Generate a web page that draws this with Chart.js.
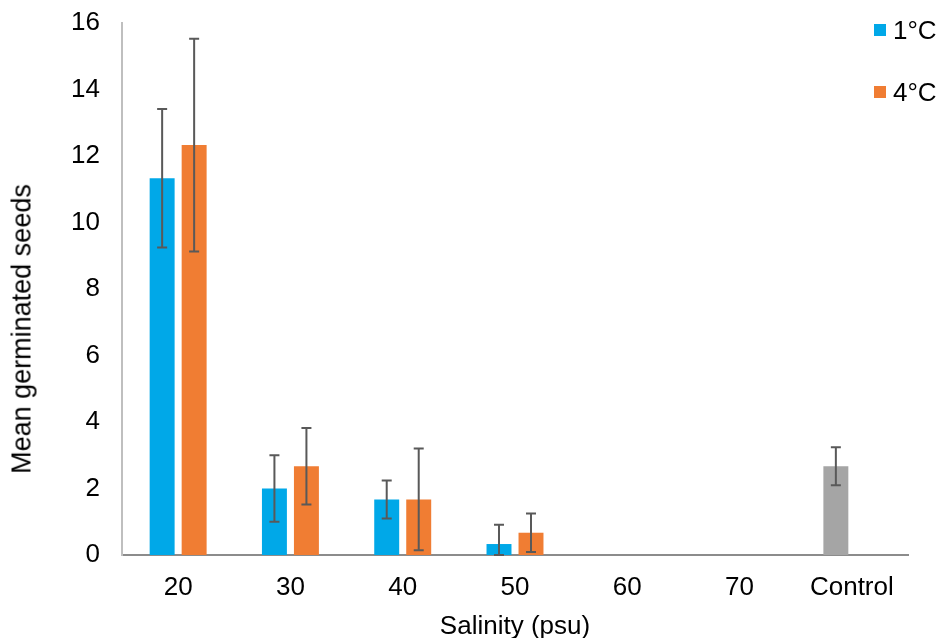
<!DOCTYPE html>
<html>
<head>
<meta charset="utf-8">
<script src="https://cdn.jsdelivr.net/npm/chart.js@4"></script>
<style>
  html, body { margin: 0; padding: 0; background: #fff; }
  #wrap { position: relative; width: 938px; height: 638px; font-family: "Liberation Sans", Arial, sans-serif; overflow: hidden; }
  #c { position: absolute; left: 0; top: 0; }
  .leg { position: absolute; left: 874px; font-size: 26px; line-height: 30px; color: #000; display: flex; align-items: center; }
  .leg span.sw { display: inline-block; width: 12px; height: 12px; margin-right: 7px; }
  #ytitle { position: absolute; left: 22px; top: 329px; transform: translate(-50%, -50%) rotate(-90deg); font-size: 27px; white-space: nowrap; color: #000; }
</style>
</head>
<body>
<div id="wrap">
  <canvas id="c" width="938" height="638"></canvas>
  <div class="leg" style="top:15px;"><span class="sw" style="background:#00A8E8"></span>1°C</div>
  <div class="leg" style="top:77px;"><span class="sw" style="background:#F07D33"></span>4°C</div>
  <div id="ytitle">Mean germinated seeds</div>
</div>
<script>
const categories = ["20", "30", "40", "50", "60", "70", "Control"];
const seriesNames = ["1°C", "4°C"];
const mean1C = [11.33, 2.0, 1.67, 0.33, 0, 0, 2.67];
const err1C = [2.08, 1.0, 0.57, 0.58, 0, 0, 0.57];
const mean4C = [12.33, 2.67, 1.67, 0.67, 0, 0, null];
const err4C = [3.2, 1.15, 1.53, 0.58, 0, 0, 0];
const yTicks = [0, 2, 4, 6, 8, 10, 12, 14, 16];

const blue = "#00A8E8", orange = "#F07D33", gray = "#A5A5A5";
const colors1 = categories.map(c => c === "Control" ? gray : blue);

const errorBars = {
  id: "errorBars",
  afterDatasetsDraw(chart) {
    const ctx = chart.ctx;
    const y = chart.scales.y;
    const errs = [err1C, err4C];
    ctx.save();
    ctx.strokeStyle = "#595959";
    ctx.lineWidth = 2;
    chart.data.datasets.forEach((ds, di) => {
      const meta = chart.getDatasetMeta(di);
      meta.data.forEach((bar, i) => {
        const v = ds.data[i];
        const e = errs[di][i];
        if (v === null || v === undefined || !e) return;
        const x = bar.x;
        const yt = y.getPixelForValue(v + e);
        const yb = y.getPixelForValue(Math.max(0, v - e));
        ctx.beginPath();
        ctx.moveTo(x, yt); ctx.lineTo(x, yb);
        ctx.moveTo(x - 5, yt); ctx.lineTo(x + 5, yt);
        ctx.moveTo(x - 5, yb); ctx.lineTo(x + 5, yb);
        ctx.stroke();
      });
    });
    ctx.restore();
  }
};

new Chart(document.getElementById("c"), {
  type: "bar",
  data: {
    labels: categories,
    datasets: [
      { label: seriesNames[0], data: mean1C, backgroundColor: colors1, categoryPercentage: 0.57, barPercentage: 0.78 },
      { label: seriesNames[1], data: mean4C, backgroundColor: orange, categoryPercentage: 0.57, barPercentage: 0.78 }
    ]
  },
  options: {
    responsive: false,
    animation: false,
    layout: { padding: { top: 23, right: 30, left: 0, bottom: 0 } },
    plugins: { legend: { display: false }, tooltip: { enabled: false } },
    scales: {
      x: {
        grid: { display: false, drawTicks: false },
        border: { display: true, color: "#8C8C8C", width: 2 },
        ticks: { color: "#000", font: { family: "Liberation Sans", size: 26 }, padding: 17 },
        title: { display: true, text: "Salinity (psu)", color: "#000", font: { family: "Liberation Sans", size: 26 }, padding: { top: 4, bottom: -4 } },
        afterFit(s) { s.height = 83; s.paddingLeft = 0; s.paddingRight = 0; }
      },
      y: {
        min: 0, max: 16,
        afterBuildTicks(s) { s.ticks = yTicks.map(v => ({ value: v })); },
        grid: { display: false, drawTicks: false },
        border: { display: true, color: "#BFBFBF", width: 2 },
        ticks: { color: "#000", font: { family: "Liberation Sans", size: 26 }, padding: 22 },
        afterFit(s) { s.width = 122; s.paddingTop = 0; s.paddingBottom = 0; }
      }
    }
  },
  plugins: [errorBars]
});
</script>
</body>
</html>
